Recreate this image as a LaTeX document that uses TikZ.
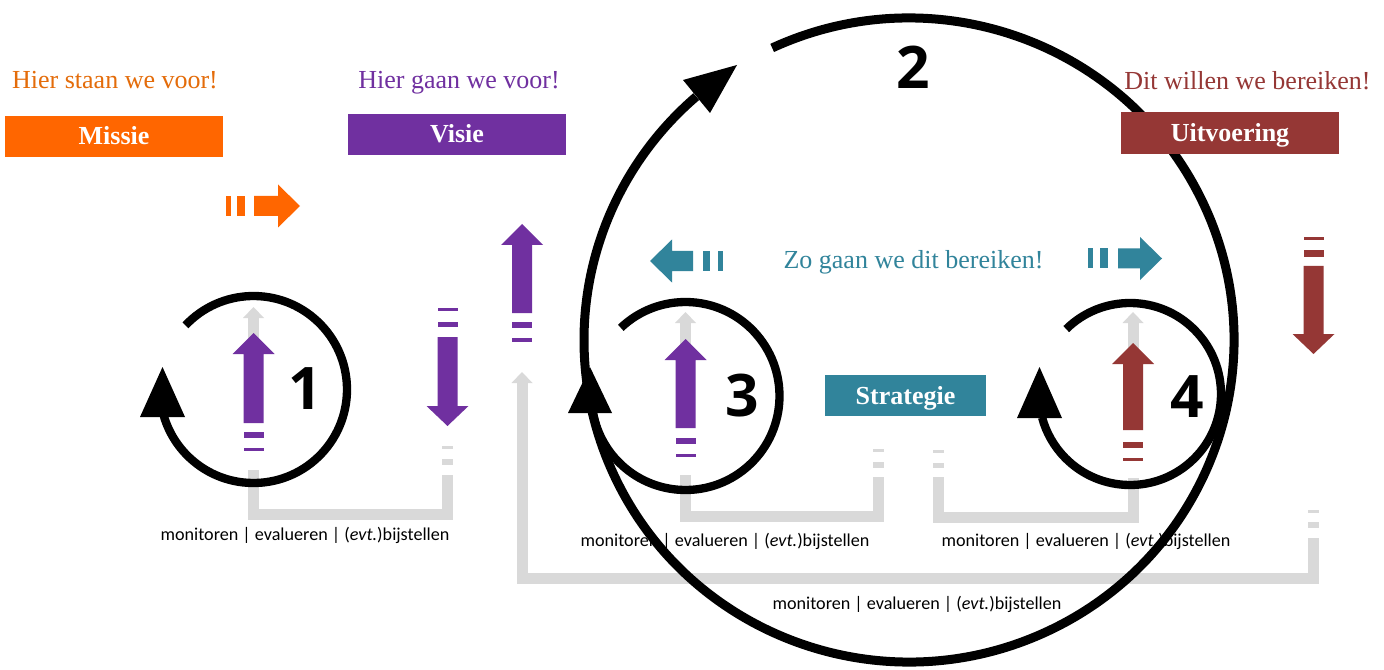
\documentclass[tikz,border=0pt]{standalone}
\usepackage{fontspec}
\setmainfont{Liberation Serif}
\newfontfamily\labfont{Carlito}
\newfontfamily\numfont{Open Sans}
\definecolor{orangeC}{HTML}{FF6600}
\definecolor{orangeT}{HTML}{E46C0A}
\definecolor{purpleC}{HTML}{7030A0}
\definecolor{redC}{HTML}{953735}
\definecolor{tealC}{HTML}{31849B}
\definecolor{lgrey}{HTML}{D9D9D9}
% block arrows (pixel coordinates)
\newcommand\blkup[4]{\fill[#4] (#1,#2) -- ({#1+21},{#2+21}) -- ({#1+10},{#2+21}) -- ({#1+10},#3) -- ({#1-10},#3) -- ({#1-10},{#2+21}) -- ({#1-21},{#2+21}) -- cycle;}
\newcommand\blkdown[4]{\fill[#4] (#1,#2) -- ({#1+21},{#2-20}) -- ({#1+10},{#2-20}) -- ({#1+10},#3) -- ({#1-10},#3) -- ({#1-10},{#2-20}) -- ({#1-21},{#2-20}) -- cycle;}
\newcommand\blkright[4]{\fill[#4] (#2,#1) -- ({#2-22},{#1-21.5}) -- ({#2-22},{#1-10}) -- (#3,{#1-10}) -- (#3,{#1+10}) -- ({#2-22},{#1+10}) -- ({#2-22},{#1+21.5}) -- cycle;}
\newcommand\blkleft[4]{\fill[#4] (#2,#1) -- ({#2+22},{#1-21.5}) -- ({#2+22},{#1-10}) -- (#3,{#1-10}) -- (#3,{#1+10}) -- ({#2+22},{#1+10}) -- ({#2+22},{#1+21.5}) -- cycle;}
\newcommand\mkbarH[5]{\fill[#5] ({#1-#4},#2) rectangle ({#1+#4},#3);}
\newcommand\mkbarV[5]{\fill[#5] (#2,{#1-#4}) rectangle (#3,{#1+#4});}
\newcommand\greyhead[2]{\fill[lgrey] (#1,#2) -- ({#1+10.5},{#2+11}) -- ({#1-10.5},{#2+11}) -- cycle;}
\begin{document}
\begin{tikzpicture}[x=0.75pt,y=-0.75pt,
  greyline/.style={draw=lgrey, line width=8.25pt},
  loopline/.style={draw=black, line width=6.25pt},
  bigloop/.style={draw=black, line width=6.75pt},
  box/.style={rectangle, inner sep=0pt},
  boxtext/.style={anchor=base, text=white, font=\bfseries\fontsize{19.5}{19.5}\selectfont},
  head/.style={anchor=base, font=\fontsize{19.5}{19.5}\selectfont},
  lab/.style={anchor=base, font=\labfont\fontsize{13.6}{14}\selectfont},
  num/.style={font=\numfont\bfseries\fontsize{44}{44}\selectfont}]
\useasboundingbox[fill=white] (0,0) rectangle (1384,670);

% ---------- grey feedback lines ----------
\coordinate (g1s) at (447.5,475);
\coordinate (g1c) at (253.5,514);
\coordinate (g1e) at (253.5,317);
\draw[greyline] (g1s) |- (g1c) -- (g1e);
\greyhead{253.5}{307}
\mkbarH{447.5}{446}{449}{5.5}{lgrey}
\mkbarH{447.5}{459}{465}{5.5}{lgrey}

\coordinate (g3s) at (878,477);
\coordinate (g3c) at (685.5,516);
\coordinate (g3e) at (685.5,322);
\draw[greyline] (g3s) |- (g3c) -- (g3e);
\greyhead{685.5}{312}
\mkbarH{878}{449}{452}{5.5}{lgrey}
\mkbarH{878}{462}{468}{5.5}{lgrey}

\coordinate (g4s) at (938.5,477);
\coordinate (g4c) at (1133,517);
\coordinate (g4e) at (1133,322);
\draw[greyline] (g4s) |- (g4c) -- (g4e);
\greyhead{1133}{312}
\mkbarH{938.5}{450}{453}{5.5}{lgrey}
\mkbarH{938.5}{463}{468}{5.5}{lgrey}

\coordinate (g2s) at (1313.5,538);
\coordinate (g2c) at (522,578);
\coordinate (g2e) at (522,382);
\draw[greyline] (g2s) |- (g2c) -- (g2e);
\greyhead{522}{372}
\mkbarH{1313.5}{510}{513}{5.5}{lgrey}
\mkbarH{1313.5}{522}{528}{5.5}{lgrey}

% white gaps behind dashed tails
\fill[white] (240,423) rectangle (267,470);
\fill[white] (672,428) rectangle (699,475);
\fill[white] (1119,430) rectangle (1147,478);

% ---------- coloured block arrows ----------
\blkright{206}{300}{254}{orangeC}
\mkbarV{206}{237}{245}{10}{orangeC}
\mkbarV{206}{226}{231}{10}{orangeC}

\blkup{253.5}{333}{423}{purpleC}
\mkbarH{253.5}{432}{438}{10}{purpleC}
\mkbarH{253.5}{448}{451}{10}{purpleC}

\blkdown{447.5}{426}{337}{purpleC}
\mkbarH{447.5}{322}{327}{10}{purpleC}
\mkbarH{447.5}{308}{311}{10}{purpleC}

\blkup{522}{224}{313}{purpleC}
\mkbarH{522}{322}{328}{10}{purpleC}
\mkbarH{522}{338}{342}{10}{purpleC}

\blkleft{261}{650}{693}{tealC}
\mkbarV{261}{703}{710}{10}{tealC}
\mkbarV{261}{718}{723}{10}{tealC}

\blkright{258.5}{1162}{1118}{tealC}
\mkbarV{258.5}{1100}{1108}{10}{tealC}
\mkbarV{258.5}{1088}{1093}{10}{tealC}

\blkup{685.5}{339}{428}{purpleC}
\mkbarH{685.5}{438}{444}{10}{purpleC}
\mkbarH{685.5}{454}{457}{10}{purpleC}

\blkup{1133}{343}{430}{redC}
\mkbarH{1133}{442}{448}{10}{redC}
\mkbarH{1133}{458}{461}{10}{redC}

\blkdown{1313.5}{354}{266}{redC}
\mkbarH{1313.5}{250}{257}{10}{redC}
\mkbarH{1313.5}{237}{240}{10}{redC}

% ---------- black cycle arrows ----------
\coordinate (c1) at (253.5,389.5);
\draw[loopline] ([shift={(223.3:93.5)}]c1) arc[start angle=223.3, end angle=523.5, radius=93.5];
\fill (162.5,367) -- (185,417) -- (140,417) -- cycle;

\coordinate (c3) at (685.5,396);
\draw[loopline] ([shift={(226.5:94)}]c3) arc[start angle=226.5, end angle=530, radius=94];
\fill (590,367) -- (612,413) -- (568,413) -- cycle;

\coordinate (c4) at (1130,394);
\draw[loopline] ([shift={(225.5:91)}]c4) arc[start angle=225.5, end angle=525, radius=91];
\fill (1039.5,367) -- (1062,418) -- (1017,418) -- cycle;

\coordinate (c2) at (909,340);
\draw[bigloop] ([shift={(245.1:325 and 322)}]c2) arc[start angle=245.1, end angle=589.1, x radius=325, y radius=322];
\fill (737,65) -- (710,113) -- (683,80) -- cycle;

% ---------- boxes ----------
\node[box, fill=orangeC, minimum width=163.5pt, minimum height=30.75pt] (missie) at (114,136.5) {};
\node[boxtext] (tmissie) at (114,145) {Missie};
\node[box, fill=purpleC, minimum width=163.5pt, minimum height=30.75pt] (visie) at (457,134.5) {};
\node[boxtext] (tvisie) at (457,143) {Visie};
\node[box, fill=redC, minimum width=163.5pt, minimum height=31.5pt] (uitvoering) at (1230,133) {};
\node[boxtext] (tuitv) at (1230,142) {Uitvoering};
\node[box, fill=tealC, minimum width=120.75pt, minimum height=30.75pt] (strategie) at (905.5,395.5) {};
\node[boxtext] (tstrat) at (905.5,404) {Strategie};

% ---------- headings ----------
\node[head, text=orangeT] (hmissie) at (115,89) {Hier staan we voor!};
\node[head, text=purpleC] (hvisie) at (459,89) {Hier gaan we voor!};
\node[head, text=redC] (huitv) at (1247.5,90) {Dit willen we bereiken!};
\node[head, text=tealC] (hstrat) at (913.5,268) {Zo gaan we dit bereiken!};

% ---------- numbers ----------
\node[num] (n1) at (305,389) {1};
\node[num] (n2) at (913,67) {2};
\node[num] (n3) at (742,396) {3};
\node[num] (n4) at (1187,397) {4};

% ---------- labels ----------
\node[lab] (l1) at (305,540) {monitoren | evalueren | (\textit{evt.})bijstellen};
\node[lab] (l3) at (725,546) {monitoren | evalueren | (\textit{evt.})bijstellen};
\node[lab] (l4) at (1086,546) {monitoren | evalueren | (\textit{evt.})bijstellen};
\node[lab] (l2) at (917,609) {monitoren | evalueren | (\textit{evt.})bijstellen};
\end{tikzpicture}
\end{document}
